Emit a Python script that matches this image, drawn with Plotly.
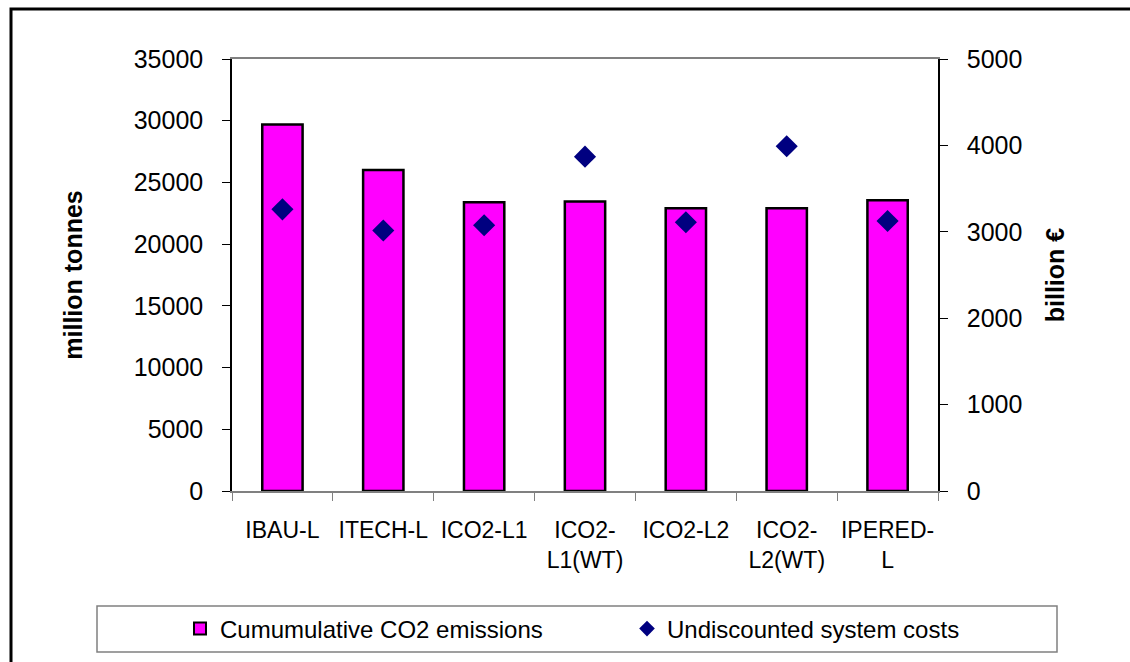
import plotly.graph_objects as go

scenarios = ["IBAU-L", "ITECH-L", "ICO2-L1", "ICO2-<br>L1(WT)", "ICO2-L2", "ICO2-<br>L2(WT)", "IPERED-<br>L"]
co2_emissions = [29700, 26000, 23400, 23450, 22900, 22900, 23550]      # million tonnes
system_costs = [3260, 3015, 3075, 3870, 3110, 3990, 3125]               # billion EUR

W, H = 1130, 662
L, R, T, B = 232, 192, 59, 171
PW, PH = W - L - R, H - T - B


def px_x(x):
    return (x - L) / PW


def px_y(y):
    return (H - B - y) / PH


FONT = "Liberation Sans, Arial, sans-serif"

fig = go.Figure()
fig.add_trace(go.Bar(
    x=scenarios, y=co2_emissions, name="Cumumulative CO2 emissions",
    marker=dict(color="#FF00FF", line=dict(color="#000000", width=2.5)),
    width=0.4, yaxis="y",
))
fig.add_trace(go.Scatter(
    x=scenarios, y=system_costs, name="Undiscounted system costs",
    mode="markers", marker=dict(symbol="diamond", size=17, color="#000080"),
    yaxis="y2",
))

fig.update_layout(
    width=W, height=H,
    margin=dict(l=L, r=R, t=T, b=B, autoexpand=False),
    paper_bgcolor="white", plot_bgcolor="white",
    font=dict(family=FONT, color="#000000"),
    bargap=0.6,
    xaxis=dict(
        type="category", showline=True, linecolor="#808080", linewidth=1.5,
        mirror=True, ticks="outside", tickson="boundaries", ticklen=8,
        tickcolor="#808080", showgrid=False, tickfont=dict(size=23),
        tickangle=0, ticklabelstandoff=18, automargin=False,
    ),
    yaxis=dict(
        range=[0, 35000], dtick=5000, tickformat="d", showline=True,
        linecolor="#000000", linewidth=1.5, ticks="outside", ticklen=8,
        tickcolor="#000000", showgrid=False, zeroline=False,
        tickfont=dict(size=25), ticklabelstandoff=14, automargin=False,
        title=dict(text="<b>million tonnes</b>", font=dict(size=25), standoff=44),
    ),
    yaxis2=dict(
        range=[0, 5000], dtick=1000, tickformat="d", overlaying="y", side="right",
        showline=True, linecolor="#000000", linewidth=1.5, ticks="outside",
        ticklen=8, tickcolor="#000000", showgrid=False, zeroline=False,
        tickfont=dict(size=25), ticklabelstandoff=14, automargin=False,
        title=dict(text="<b>billion €</b>", font=dict(size=25), standoff=25),
    ),
    showlegend=True,
    legend=dict(
        orientation="h", x=px_x(180), y=px_y(629), xanchor="left", yanchor="middle",
        font=dict(size=24), entrywidth=402, entrywidthmode="pixels",
        bgcolor="rgba(0,0,0,0)", borderwidth=0, itemsizing="constant",
    ),
    shapes=[
        # legend frame
        dict(type="rect", xref="paper", yref="paper",
             x0=px_x(97), x1=px_x(1057), y0=px_y(606), y1=px_y(652),
             line=dict(color="#808080", width=1.5), fillcolor="rgba(0,0,0,0)", layer="below"),
        # outer chart frame
        dict(type="rect", xref="paper", yref="paper",
             x0=px_x(11), x1=px_x(1140), y0=px_y(9), y1=px_y(680),
             line=dict(color="#000000", width=3), fillcolor="rgba(0,0,0,0)", layer="below"),
    ],
)

fig.write_html("out.html")
